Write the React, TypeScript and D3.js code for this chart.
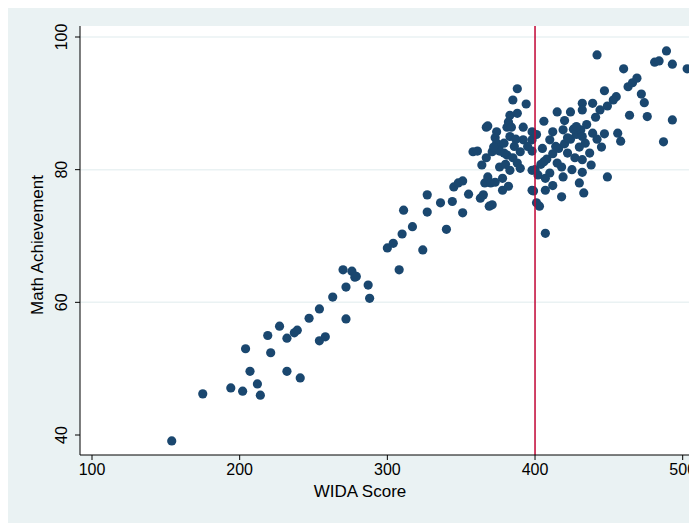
import React from "react";
import * as d3 from "d3";

const xTicks = [100, 200, 300, 400, 500];
const yTicks = [40, 60, 80, 100];
const gridY = [60, 80, 100];
const cutoff = 400;
const points: [number, number][] = [
[154,39.1],[175,46.2],[194,47.1],[202,46.6],[204,53],[207,49.6],[212,47.7],[214,46],[219,55],[221,52.4],
[227,56.4],[232,54.6],[232,49.6],[237,55.4],[239,55.8],[241,48.6],[247,57.6],[254,54.2],[254,59],[258,54.8],
[263,60.8],[270,64.9],[272,62.3],[272,57.5],[276,64.7],[278,63.8],[279,63.9],[287,62.6],[288,60.6],[300,68.2],
[304,68.9],[308,64.9],[310,70.3],[311,73.9],[317,71.4],[324,67.9],[327,73.6],[327,76.2],[336,75],[340,71],
[344,75.2],[345,77.4],[348,78],[351,78.3],[351,73.5],[355,76.3],[358,82.7],[361,82.8],[363,75.7],[365,76.2],
[366,78],[368,78.9],[367,86.4],[370,78],[371,74.7],[373,78.1],[373,84.8],[376,83.7],[378,76.9],[381,86.4],
[383,88.2],[385,90.5],[388,92.2],[394,89.9],[388,88.5],[382,87.2],[368,86.6],[374,85.7],[392,86.4],[398,85.7],
[384,86.4],[374,84],[379,84],[383,85],[392,84.5],[398,84.5],[398,82.8],[367,81.8],[371,82.7],[364,80.7],
[381,82.2],[385,81.8],[390,82.7],[388,81],[376,80.4],[383,79.9],[378,78.7],[382,77.5],[398,79.9],[398,76.9],
[401,75],[369,74.5],[386,83.5],[379,82.5],[387,84.6],[376,82.8],[372,83.4],[395,83.5],[390,80.2],[380,80.8],
[442,97.3],[460,95.2],[481,96.2],[484,96.4],[489,97.9],[493,95.9],[503,95.2],[463,92.5],[466,93.1],[469,93.8],
[472,91.4],[474,90.1],[476,88],[464,88.2],[493,87.5],[487,84.2],[447,91.9],[455,91],[453,90.5],[449,89.6],
[444,89],[441,87.9],[439,90],[432,90],[432,89],[424,88.7],[415,88.7],[406,87.3],[439,85.5],[447,85.4],
[456,85.5],[458,84.3],[445,83.4],[449,78.9],[438,80.7],[433,76.5],[418,75.9],[407,70.4],[403,74.5],[399,76.8],
[400,80],[404,80.8],[408,81.6],[412,82.4],[416,83.2],[420,83.9],[424,84.6],[428,85.3],[431,86],[402,79.2],
[406,81.2],[414,83.5],[422,84.8],[426,86.1],[412,85.7],[419,86],[422,82.5],[418,80.4],[425,80],[432,79.6],
[430,78],[419,78.9],[412,77.6],[407,78.7],[407,76.9],[434,84],[437,82.5],[432,81.5],[430,83.4],[432,85],
[428,86.5],[410,79.5],[415,81],[427,81.8],[435,86.8],[405,83.2],[401,85.3],[410,84.5],[420,87.4],[442,84.6],
];

export default function App() {
  const W = 689, H = 523;
  const x = d3.scaleLinear().domain([100, 500]).range([92, 682.7]);
  const y = d3.scaleLinear().domain([40, 100]).range([435, 37]);
  const L = 80, T = 26, B = 455, R = 689;
  const font = "'Liberation Sans', Arial, sans-serif";
  return (
    <svg width={W} height={H} style={{ position: "absolute", left: 0, top: 0 }} fontFamily={font}>
      <defs>
        <clipPath id="pc"><rect x={L} y={T} width={R - L} height={B - T} /></clipPath>
      </defs>
      <rect width={W} height={H} fill="#fff" />
      <rect x={8} y={8} width={W - 8} height={H - 8} fill="#eaf2f3" />
      <rect x={L} y={T} width={R - L} height={B - T} fill="#fff" />
      {gridY.map(v => <line key={v} x1={L} x2={R} y1={y(v)} y2={y(v)} stroke="#eaf2f3" strokeWidth={1.5} />)}
      <g clipPath="url(#pc)">
        {points.map((p, i) => <circle key={i} cx={x(p[0])} cy={y(p[1])} r={4.6} fill="#1a476f" />)}
        <line x1={x(cutoff)} x2={x(cutoff)} y1={T} y2={B} stroke="#c10534" strokeWidth={1.5} />
      </g>
      <line x1={L} x2={L} y1={T} y2={B} stroke="#000" />
      <line x1={L} x2={R} y1={B} y2={B} stroke="#000" />
      {yTicks.map(v => (
        <g key={v}>
          <line x1={L - 5} x2={L} y1={y(v)} y2={y(v)} stroke="#000" />
          <text transform={`translate(67,${y(v)}) rotate(-90)`} textAnchor="middle" fontSize={16}>{v}</text>
        </g>
      ))}
      {xTicks.map(v => (
        <g key={v}>
          <line x1={x(v)} x2={x(v)} y1={B} y2={B + 5} stroke="#000" />
          <text x={x(v)} y={B + 20} textAnchor="middle" fontSize={16}>{v}</text>
        </g>
      ))}
      <text transform={`translate(43,245) rotate(-90)`} textAnchor="middle" fontSize={17}>Math Achievement</text>
      <text x={360} y={497} textAnchor="middle" fontSize={17}>WIDA Score</text>
    </svg>
  );
}
